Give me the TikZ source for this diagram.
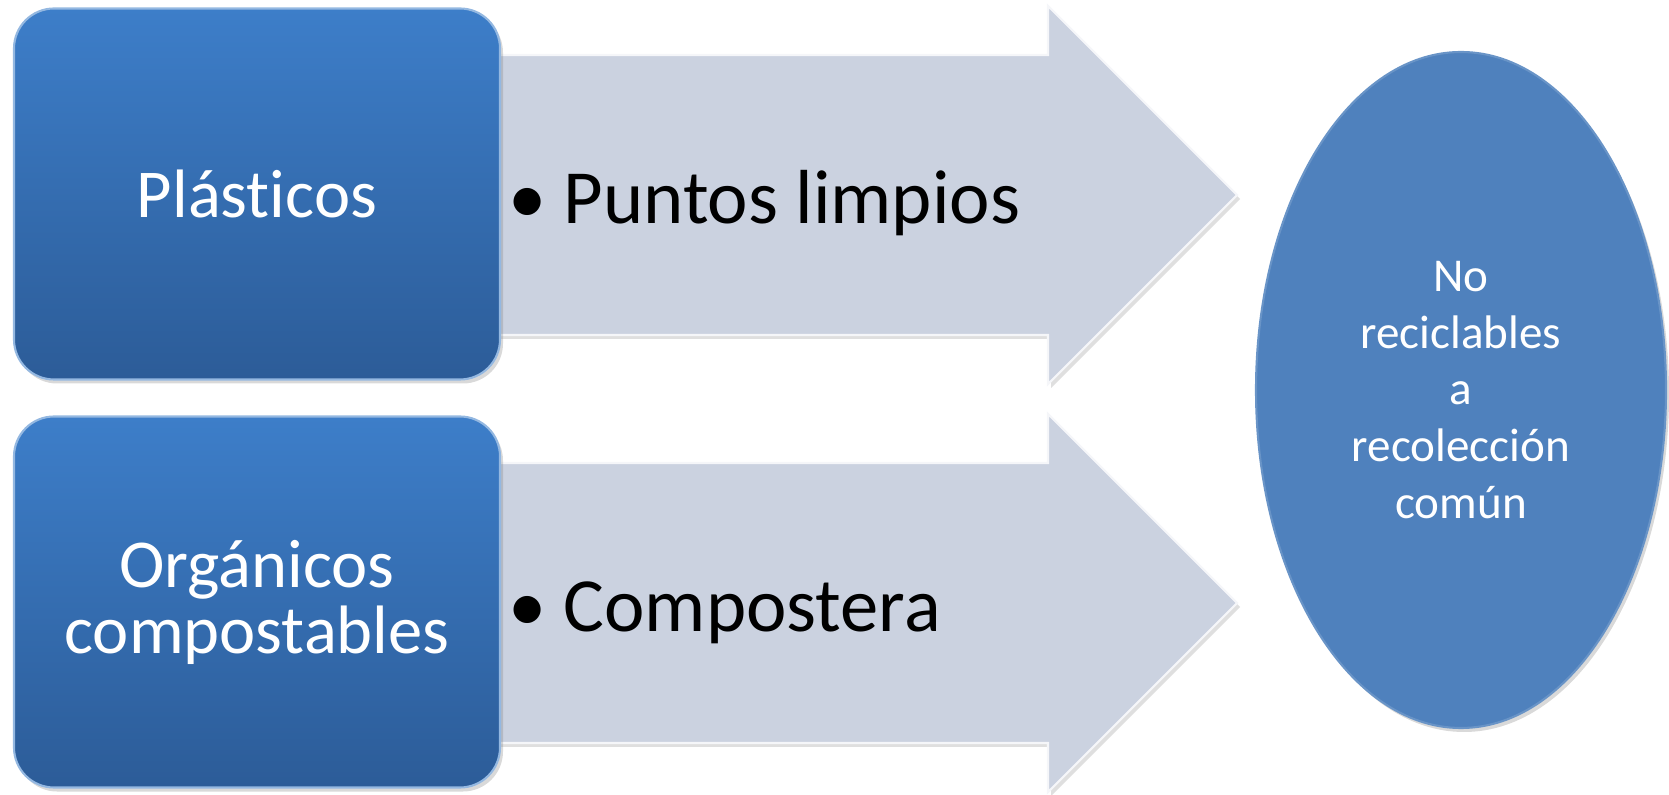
\documentclass[tikz,border=0pt]{standalone}
\usepackage{fontspec}
\setmainfont{Carlito}[Ligatures=NoCommon]
\usetikzlibrary{shapes.geometric,shadows}
\definecolor{boxtop}{RGB}{61,126,201}
\definecolor{boxbottom}{RGB}{44,92,152}
\definecolor{arrowgray}{RGB}{203,210,224}
\definecolor{binblue}{RGB}{79,129,189}

\begin{document}
\begin{tikzpicture}[
	catbox/.style={rectangle, rounded corners=0.4cm, minimum width=4.86cm, minimum height=3.71cm, inner sep=0pt,
		top color=boxtop, bottom color=boxbottom, draw=boxtop!55!white, line width=0.6pt,
		text=white, align=center, font=\fontsize{19.5}{18.8}\selectfont,
		drop shadow={opacity=0.3, shadow xshift=0.03cm, shadow yshift=-0.04cm}},
	flowarrow/.style={fill=arrowgray, draw=white!80!arrowgray, line width=0.6pt,
		drop shadow={opacity=0.25, shadow xshift=0.03cm, shadow yshift=-0.04cm}},
	itemtext/.style={anchor=base west, inner sep=0pt, font=\fontsize{21.8}{26}\selectfont},
	binnode/.style={ellipse, minimum width=4.10cm, minimum height=6.76cm, inner sep=0pt,
		fill=binblue, draw=binblue!85!white, line width=0.6pt, text=white, align=center,
		font=\fontsize{13.4}{16.1}\selectfont,
		drop shadow={opacity=0.3, shadow xshift=0.03cm, shadow yshift=-0.04cm}}
	]
	
	% Page size
	\useasboundingbox (0,0) rectangle (16.69,7.94);
	
	% Upper arrow
	\filldraw[flowarrow] (4.80,7.39) -- (10.48,7.39) -- (10.48,7.88) -- (12.37,5.99)
		-- (10.48,4.10) -- (10.48,4.59) -- (4.80,4.59) -- cycle;
	
	% Lower arrow
	\filldraw[flowarrow] (4.80,3.31) -- (10.48,3.31) -- (10.48,3.80) -- (12.37,1.91)
		-- (10.48,0.02) -- (10.48,0.51) -- (4.80,0.51) -- cycle;
	
	% Categories
	\node[catbox] (plasticos) at (2.57,6.00) {Plásticos};
	\node[catbox] (organicos) at (2.57,1.92) {Orgánicos\\compostables};
	
	% Where they go
	\node[itemtext] (puntos) at (5.08,5.70) {\textbullet\hspace{0.22em}Puntos limpios};
	\node[itemtext] (compostera) at (5.08,1.62) {\textbullet\hspace{0.22em}Compostera};
	
	% Not recyclable
	\node[binnode] (norecic) at (14.61,4.04) {No\\reciclables\\a\\recolección\\común};
	
\end{tikzpicture}
\end{document}
